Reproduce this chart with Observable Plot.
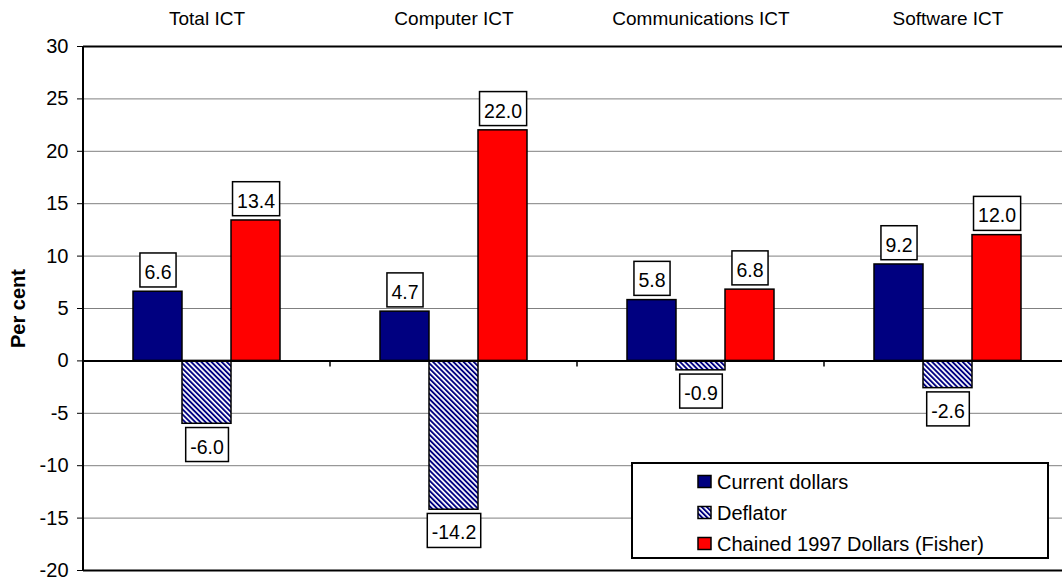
<!DOCTYPE html>
<html><head><meta charset="utf-8">
<script src="https://cdn.jsdelivr.net/npm/d3@7"></script>
<script src="https://cdn.jsdelivr.net/npm/@observablehq/plot@0.6"></script>
<style>
html,body{margin:0;padding:0;background:#fff;overflow:hidden;}
#chart{position:relative;width:1062px;height:582px;}
</style>
</head><body><div id="chart"></div>
<script>
const categories = ["Total ICT", "Computer ICT", "Communications ICT", "Software ICT"];
const seriesNames = ["Current dollars", "Deflator", "Chained 1997 Dollars (Fisher)"];
const currentDollars = [6.6, 4.7, 5.8, 9.2];
const deflator = [-6.0, -14.2, -0.9, -2.6];
const chained1997 = [13.4, 22.0, 6.8, 12.0];
const yTicks = [-20, -15, -10, -5, 0, 5, 10, 15, 20, 25, 30];
const gridTicks = [-15, -10, -5, 5, 10, 15, 20, 25];
const frameTicks = [-20, 30];
const seriesColors = ["#000080", "url(#hatch)", "#ff0000"];

const seriesValues = [currentDollars, deflator, chained1997];
const rows = [];
categories.forEach((c, i) => {
  seriesValues.forEach((arr, j) => rows.push({category: c, series: seriesNames[j], value: arr[i]}));
});

const FONT = '"Liberation Sans", Arial, Helvetica, sans-serif';

const plot = Plot.plot({
  width: 1062, height: 582,
  marginTop: 46, marginBottom: 12, marginLeft: 82, marginRight: -9,
  style: {fontFamily: FONT, fontSize: "19px", color: "#000", background: "#fff", overflow: "hidden"},
  fx: {domain: categories, padding: 0, axis: "top", tickSize: 0, tickPadding: 22, label: null},
  x: {domain: seriesNames, axis: null, paddingInner: 0, paddingOuter: 1},
  y: {domain: [-20, 30], ticks: yTicks, tickSize: 6, tickPadding: 9, tickFormat: d => String(d),
      label: "Per cent", labelAnchor: "center", labelOffset: 73},
  color: {domain: seriesNames, range: seriesColors},
  marks: [
    Plot.ruleY(gridTicks, {stroke: "#808080", strokeWidth: 1}),
    Plot.ruleY(frameTicks, {stroke: "#000", strokeWidth: 2}),
    Plot.barY(rows, {fx: "category", x: "series", y: "value", fill: "series", stroke: "#000", strokeWidth: 1.5}),
    Plot.ruleY([0], {stroke: "#000", strokeWidth: 2}),
    Plot.text(rows.filter(d => d.value >= 0), {fx: "category", x: "series", y: "value", text: d => d.value.toFixed(1), dy: -19, fill: "#000", fontSize: 19.5}),
    Plot.text(rows.filter(d => d.value < 0), {fx: "category", x: "series", y: "value", text: d => d.value.toFixed(1), dy: 23.5, fill: "#000", fontSize: 19.5})
  ]
});

document.getElementById("chart").appendChild(plot);
const svg = d3.select(plot);

// hatch pattern
const defs = svg.insert("defs", ":first-child");
const pat = defs.append("pattern").attr("id", "hatch").attr("patternUnits", "userSpaceOnUse")
  .attr("width", 3.6).attr("height", 3.6).attr("patternTransform", "rotate(-45)");
pat.append("rect").attr("width", 3.6).attr("height", 3.6).attr("fill", "#fff");
pat.append("rect").attr("width", 1.9).attr("height", 3.6).attr("fill", "#000080");

// y-axis: tick label size, bold label
svg.selectAll('g[aria-label^="y-axis"] text').attr("font-size", "20px");
svg.selectAll("text").each(function () {
  if (this.textContent.includes("Per cent")) {
    this.textContent = "Per cent";
    d3.select(this).attr("font-weight", "bold").attr("font-size", "20px");
  }
});

// boxes behind value labels
svg.selectAll('g[aria-label="text"] text').each(function () {
  const node = this;
  const b = node.getBBox();
  const cy = b.y + b.height / 2 - 2;
  d3.select(node.parentNode).insert("rect", () => node)
    .attr("x", b.x - 4.5).attr("width", b.width + 9)
    .attr("y", cy - 17).attr("height", 34)
    .attr("transform", node.getAttribute("transform"))
    .attr("fill", "#fff").attr("stroke", "#000").attr("stroke-width", 1.5);
});

// axis decorations from the scales
const ys = plot.scale("y");
const fxs = plot.scale("fx");
const deco = svg.append("g");
const y0 = ys.apply(0);
const bounds = categories.map(c => fxs.apply(c));
bounds.push(fxs.apply(categories[categories.length - 1]) + fxs.bandwidth);
bounds.slice(1).forEach(x => {
  deco.append("line").attr("x1", x).attr("x2", x).attr("y1", y0).attr("y2", y0 + 6)
    .attr("stroke", "#000").attr("stroke-width", 1.5);
});
deco.append("line").attr("x1", bounds[0]).attr("x2", bounds[0])
  .attr("y1", ys.apply(30)).attr("y2", ys.apply(-20)).attr("stroke", "#000").attr("stroke-width", 2);

// legend
const cs = plot.scale("color");
const leg = svg.append("g").attr("font-family", FONT).attr("font-size", "20px").attr("text-anchor", "start");
leg.append("rect").attr("x", 632).attr("y", 463).attr("width", 416).attr("height", 95)
  .attr("fill", "#fff").attr("stroke", "#000").attr("stroke-width", 2);
seriesNames.forEach((s, i) => {
  const cy = 481.5 + i * 31;
  leg.append("rect").attr("x", 698).attr("y", cy - 6).attr("width", 13).attr("height", 12)
    .attr("fill", cs.apply(s)).attr("stroke", "#000").attr("stroke-width", 1.5);
  leg.append("text").attr("x", 717).attr("y", cy).attr("dy", "0.35em").attr("text-anchor", "start").attr("fill", "#000").text(s);
});
</script>
</body></html>
